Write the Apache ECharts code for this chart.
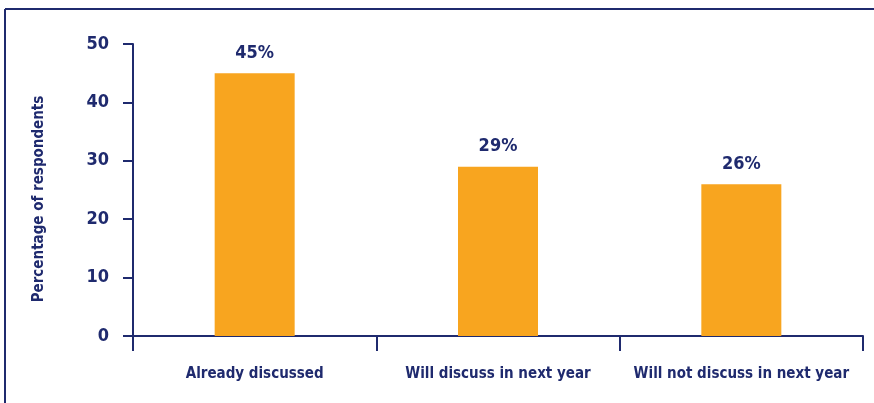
<!DOCTYPE html>
<html>
<head>
<meta charset="utf-8">
<script src="https://cdn.jsdelivr.net/npm/echarts@6/dist/echarts.min.js"></script>
<style>
  html, body { margin: 0; padding: 0; background: #fff; }
  #chart { width: 874px; height: 403px; }
</style>
</head>
<body>
<div id="chart"></div>
<script>
 let categories = ['Already discussed', 'Will discuss in next year', 'Will not discuss in next year'];
 let values = [45, 29, 26];
 let yTicks = [0, 10, 20, 30, 40, 50];

 let navy = '#1f2a6e';
 let font = '"DejaVu Sans Condensed", "Liberation Sans Narrow", sans-serif';
 let myChart = echarts.init(document.getElementById('chart'));

 let option = {
     animation: false,
     textStyle: { fontFamily: font, color: navy },
     grid: {
         left: 133,
         right: 11,
         top: 44,
         bottom: 67
     },
     // frame: top and left rules
     graphic: [
         { type: 'line', shape: { x1: 5, y1: 9, x2: 874, y2: 9 }, style: { stroke: navy, lineWidth: 2 } },
         { type: 'line', shape: { x1: 5, y1: 9, x2: 5, y2: 403 }, style: { stroke: navy, lineWidth: 2 } }
     ],
     xAxis: {
         type: 'category',
         data: categories,
         axisLine: { lineStyle: { color: navy, width: 2 } },
         axisTick: { show: true, interval: 0, length: 15, lineStyle: { color: navy, width: 2 } },
         axisLabel: { interval: 0, color: navy, fontSize: 15, fontWeight: 'bold', margin: 31, fontFamily: font }
     },
     yAxis: {
         type: 'value',
         min: yTicks[0],
         max: yTicks[yTicks.length - 1],
         interval: 10,
         name: 'Percentage of respondents',
         nameLocation: 'middle',
         nameGap: 86,
         nameTextStyle: { color: navy, fontSize: 15, fontWeight: 'bold', fontFamily: font, padding: [0, 0, 0, -18] },
         axisLine: { show: true, lineStyle: { color: navy, width: 2 } },
         axisTick: { show: true, length: 10, lineStyle: { color: navy, width: 2 } },
         axisLabel: { color: navy, fontSize: 18, fontWeight: 'bold', margin: 24, fontFamily: font },
         splitLine: { show: false }
     },
     series: [{
         type: 'bar',
         data: values,
         barWidth: 80,
         itemStyle: { color: '#f8a51f' },
         label: {
             show: true,
             position: 'top',
             distance: 11,
             formatter: '{c}%',
             color: navy,
             fontSize: 18,
             fontWeight: 'bold',
             fontFamily: font
         }
     }]
 };
 myChart.setOption(option);
</script>
</body>
</html>
